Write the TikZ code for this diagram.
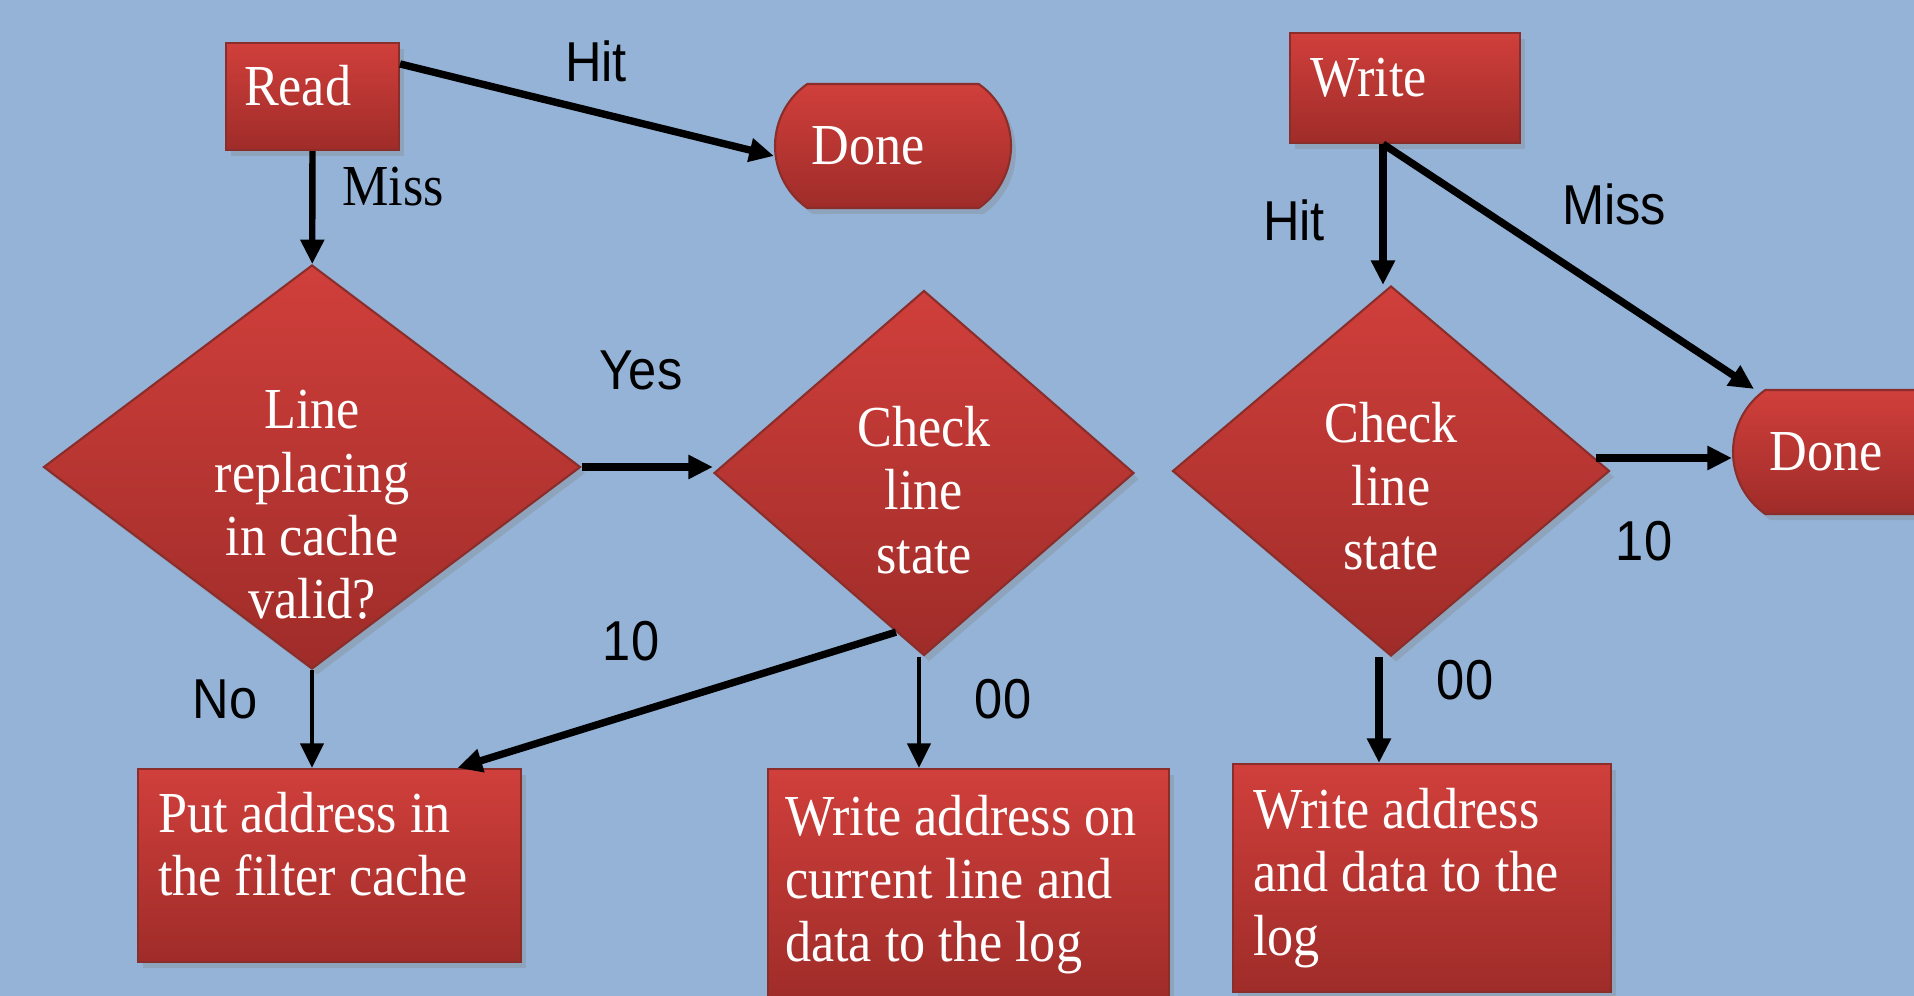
\documentclass[tikz,border=0pt]{standalone}
\usepackage{fontspec}
\setmainfont{Liberation Serif}[FakeStretch=0.9]
\newfontfamily\lblfont{Liberation Sans}[FakeStretch=0.9]
\usetikzlibrary{shapes.geometric,shapes.misc,arrows.meta,shadows}
\definecolor{bgblue}{HTML}{95B3D7}
\definecolor{redtop}{HTML}{D03F3B}
\definecolor{redbot}{HTML}{9F2C29}
\definecolor{redline}{HTML}{8A2E2C}
\newcommand{\boxfont}{\fontsize{16.5}{18}\selectfont}
\newcommand{\lblsize}{\lblfont\fontsize{16}{18}\selectfont}
\tikzset{
  redshade/.style={draw=redline, line width=0.6pt, top color=redtop, bottom color=redbot,
    text=white, font=\boxfont,
    drop shadow={shadow xshift=0.05cm, shadow yshift=-0.06cm, opacity=0.3}},
  stepbox/.style={redshade, rectangle, align=flush left, inner xsep=0.2cm, inner ysep=0pt},
  decision/.style={redshade, diamond, inner sep=0pt},
  endbox/.style={redshade, rounded rectangle, rounded rectangle arc length=110,
    inner sep=0pt, minimum width=2.36cm, minimum height=1.24cm},
  flow/.style={-{Triangle[length=7pt,width=6.5pt]}, line width=2.1pt},
  lbl/.style={font=\lblsize},
  intext/.style={text=white, font=\boxfont, align=center}
}
\begin{document}
\begin{tikzpicture}
\useasboundingbox (0,0) rectangle (19.14,-9.96);
\fill[bgblue] (0,0) rectangle (19.14,-9.96);
\clip (0,0) rectangle (19.14,-9.96);

% read side
\node[stepbox, text width=1.37cm, inner xsep=0.18cm, minimum height=1.07cm, text depth=0.22cm] (read) at (3.125,-0.965) {Read};
\node[endbox] (done1) at (8.93,-1.46) {Done\hspace*{0.5cm}};
\node[decision, minimum width=5.37cm, minimum height=4.04cm] (d1) at (3.12,-4.67) {};
\node[intext] (d1txt) at ([yshift=-0.38cm]d1.center) {Line\\replacing\\in cache\\valid?};
\node[decision, minimum width=4.2cm, minimum height=3.65cm] (d2) at (9.24,-4.73) {};
\node[intext] (d2txt) at ([yshift=-0.17cm]d2.center) {Check\\line\\state};
\node[stepbox, text width=3.43cm, minimum height=1.93cm] (put) at (3.295,-8.655) {Put address in\\the filter cache\\[-0.2cm]\mbox{}};
\node[stepbox, text width=3.67cm, inner xsep=0.17cm, minimum height=2.31cm] (logA) at (9.685,-8.845) {Write address on\\current line and\\data to the log};

% write side
\node[stepbox, text width=1.9cm, minimum height=1.1cm, text depth=0.22cm] (write) at (14.05,-0.88) {Write};
\node[decision, minimum width=4.37cm, minimum height=3.7cm] (d3) at (13.91,-4.71) {};
\node[intext] (d3txt) at ([yshift=-0.15cm]d3.center) {Check\\line\\state};
\node[endbox] (done2) at (18.51,-4.52) {Done\hspace*{0.5cm}};
\node[stepbox, text width=3.38cm, minimum height=2.28cm] (logB) at (14.22,-8.78) {Write address\\and data to the\\log};

% connectors
\draw[flow, line width=1.8pt] (read) -- (d1);
\draw[flow] ([yshift=-0.22cm]read.north east) -- ([yshift=-0.1cm]done1.west);
\draw[flow] (d1.east) -- (d1.east -| d2.west);
\draw[flow, line width=1.3pt] (d1.south) -- (d1.south |- put.north);
\draw[flow] (d2.260) -- ([xshift=1.28cm]put.north);
\draw[flow, line width=1.3pt] ([xshift=-0.05cm]d2.south) -- ([xshift=-0.05cm]d2.south |- logA.north);
\coordinate (wfork) at ([xshift=-0.22cm]write.south);
\draw[flow] (wfork) -- (wfork |- d3.north);
\draw[flow] (wfork) -- ([xshift=-0.97cm]done2.north);
\draw[flow] ([xshift=-0.15cm,yshift=0.13cm]d3.east) -- ([yshift=-0.06cm]done2.west);
\draw[flow] ([xshift=-0.12cm]d3.south) -- ([xshift=-0.12cm]d3.south |- logB.north);

% labels
\node[lbl] (hitA) at (5.96,-0.61) {Hit};
\node[font=\boxfont] (missA) at (3.93,-1.87) {Miss};
\node[lbl] (yes) at (6.41,-3.70) {Yes};
\node[lbl] (no) at (2.25,-6.99) {No};
\node[lbl] (tenA) at (6.31,-6.41) {10};
\node[lbl] (zeroA) at (10.03,-6.99) {00};
\node[lbl] (hitB) at (12.94,-2.20) {Hit};
\node[lbl] (missB) at (16.14,-2.04) {Miss};
\node[lbl] (tenB) at (16.44,-5.41) {10};
\node[lbl] (zeroB) at (14.65,-6.80) {00};
\end{tikzpicture}
\end{document}
